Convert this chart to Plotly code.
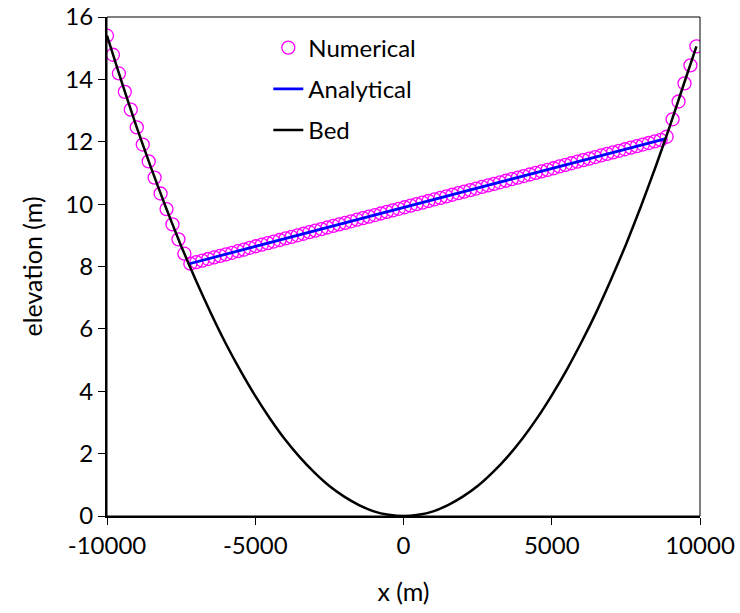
import plotly.graph_objects as go

# Numerical solution (x in m, elevation in m)
num_x = [-10000, -9799, -9598, -9398, -9197, -8996, -8795, -8594, -8394, -8193,
         -7992, -7791, -7590, -7390, -7189, -6988, -6787, -6586, -6386, -6185,
         -5984, -5783, -5582, -5382, -5181, -4980, -4779, -4578, -4378, -4177,
         -3976, -3775, -3574, -3374, -3173, -2972, -2771, -2570, -2370, -2169,
         -1968, -1767, -1566, -1366, -1165, -964, -763, -562, -362, -161,
         40, 241, 442, 642, 843, 1044, 1245, 1446, 1646, 1847,
         2048, 2249, 2450, 2650, 2851, 3052, 3253, 3454, 3654, 3855,
         4056, 4257, 4458, 4658, 4859, 5060, 5261, 5462, 5662, 5863,
         6064, 6265, 6466, 6666, 6867, 7068, 7269, 7470, 7670, 7871,
         8072, 8273, 8474, 8674, 8875, 9076, 9277, 9478, 9678, 9879]
num_y = [15.40, 14.79, 14.19, 13.60, 13.03, 12.46, 11.91, 11.37, 10.85, 10.34,
         9.84, 9.35, 8.87, 8.41, 8.09, 8.14, 8.19, 8.24, 8.29, 8.34,
         8.39, 8.44, 8.49, 8.54, 8.60, 8.65, 8.70, 8.75, 8.80, 8.85,
         8.90, 8.95, 9.00, 9.05, 9.10, 9.15, 9.20, 9.25, 9.30, 9.35,
         9.40, 9.45, 9.50, 9.55, 9.60, 9.65, 9.70, 9.75, 9.80, 9.85,
         9.90, 9.95, 10.00, 10.05, 10.10, 10.15, 10.20, 10.25, 10.30, 10.35,
         10.40, 10.45, 10.50, 10.55, 10.60, 10.65, 10.70, 10.75, 10.80, 10.85,
         10.90, 10.95, 11.00, 11.05, 11.10, 11.15, 11.21, 11.26, 11.31, 11.36,
         11.41, 11.46, 11.51, 11.56, 11.61, 11.66, 11.71, 11.76, 11.81, 11.86,
         11.91, 11.96, 12.01, 12.06, 12.16, 12.72, 13.29, 13.87, 14.45, 15.06]

# Analytical water surface
ana_x = [-7250, 8820]
ana_y = [8.08, 12.095]

# Bed profile
bed_x = [-10000, -9500, -9000, -8500, -8000, -7500, -7000, -6500, -6000, -5500,
         -5000, -4500, -4000, -3500, -3000, -2500, -2000, -1500, -1000, -500,
         0, 500, 1000, 1500, 2000, 2500, 3000, 3500, 4000, 4500,
         5000, 5500, 6000, 6500, 7000, 7500, 8000, 8500, 9000, 9500, 9880]
bed_y = [15.40, 13.90, 12.47, 11.13, 9.86, 8.66, 7.55, 6.51, 5.54, 4.66,
         3.85, 3.12, 2.46, 1.89, 1.39, 0.96, 0.62, 0.35, 0.15, 0.04,
         0.00, 0.04, 0.15, 0.35, 0.62, 0.96, 1.39, 1.89, 2.47, 3.13,
         3.87, 4.68, 5.57, 6.53, 7.58, 8.70, 9.91, 11.19, 12.55, 13.98, 15.06]

FONT = "Lato"

fig = go.Figure()
fig.add_trace(go.Scatter(
    x=num_x, y=num_y, mode="markers", name="Numerical", legendgroup="a",
    marker=dict(symbol="circle-open", size=13, color="#FF00FF",
                line=dict(color="#FF00FF", width=1.3))))
fig.add_trace(go.Scatter(
    x=ana_x, y=ana_y, mode="lines", name="Analytical", legendgroup="b",
    line=dict(color="#0000FF", width=2.8)))
fig.add_trace(go.Scatter(
    x=bed_x, y=bed_y, mode="lines", name="Bed", legendgroup="c",
    line=dict(color="black", width=2.5, shape="spline", smoothing=0.6)))

axis_common = dict(showgrid=False, zeroline=False, showline=True,
                   linecolor="black", linewidth=2, ticks="outside",
                   ticklen=7, tickwidth=1, tickcolor="black",
                   automargin=False,
                   tickfont=dict(family=FONT, size=24, color="black"),
                   title_font=dict(family=FONT, size=25, color="black"))

fig.update_layout(
    width=740, height=613,
    margin=dict(l=107, r=40, t=17, b=97),
    paper_bgcolor="white", plot_bgcolor="white",
    font=dict(family=FONT, size=24, color="black"),
    xaxis=dict(range=[-10000, 10000], tickmode="array",
               tickvals=[-10000, -5000, 0, 5000, 10000],
               ticktext=["-10000", "-5000", "0", "5000", "10000"],
               title=dict(text="x (m)", standoff=26), **axis_common),
    yaxis=dict(range=[0, 16], tickmode="array",
               tickvals=[0, 2, 4, 6, 8, 10, 12, 14, 16],
               ticktext=["0", "2", "4", "6", "8", "10", "12", "14", "16"],
               title=dict(text="elevation (m)", standoff=16), **axis_common),
    legend=dict(x=0.272, y=0.983, xanchor="left", yanchor="top",
                bgcolor="rgba(0,0,0,0)", tracegroupgap=7,
                font=dict(family=FONT, size=24, color="black")),
    shapes=[dict(type="rect", xref="paper", yref="paper", x0=0, y0=0, x1=1, y1=1,
                 line=dict(color="black", width=1))],
)

fig.write_html("out.html")
